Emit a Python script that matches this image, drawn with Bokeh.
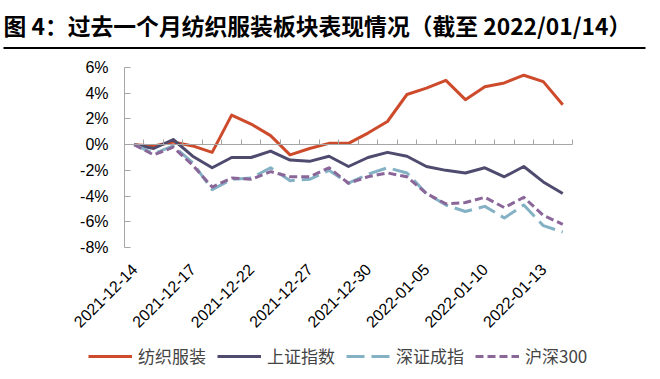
import math
from bokeh.plotting import figure
from bokeh.models import (Range1d, LinearAxis, FixedTicker, PrintfTickFormatter,
                          Legend, LegendItem, Label, BoxAnnotation)
from bokeh.embed import file_html
from bokeh.resources import INLINE

dates = ["2021-12-14", "2021-12-15", "2021-12-16", "2021-12-17", "2021-12-20",
         "2021-12-21", "2021-12-22", "2021-12-23", "2021-12-24", "2021-12-27",
         "2021-12-28", "2021-12-29", "2021-12-30", "2021-12-31", "2022-01-04",
         "2022-01-05", "2022-01-06", "2022-01-07", "2022-01-10", "2022-01-11",
         "2022-01-12", "2022-01-13", "2022-01-14"]
textile = [0, -0.1, 0.2, -0.1, -0.6, 2.3, 1.6, 0.7, -0.8, -0.3, 0.1, 0.1, 0.9,
           1.8, 3.9, 4.4, 5.0, 3.5, 4.5, 4.8, 5.4, 4.9, 3.1]
shanghai = [0, -0.3, 0.4, -0.9, -1.8, -1.0, -1.0, -0.5, -1.2, -1.3, -0.9, -1.7,
            -1.0, -0.6, -0.9, -1.7, -2.0, -2.2, -1.8, -2.5, -1.7, -2.9, -3.8]
shenzhen = [0, -0.7, -0.1, -1.4, -3.5, -2.7, -2.6, -1.8, -2.8, -2.7, -2.0, -3.0,
            -2.3, -1.8, -2.2, -3.8, -4.7, -5.2, -4.8, -5.7, -4.7, -6.3, -6.8]
hs300 = [0, -0.8, -0.2, -1.6, -3.3, -2.6, -2.7, -2.1, -2.5, -2.5, -1.8, -3.0,
         -2.5, -2.2, -2.5, -3.8, -4.6, -4.5, -4.1, -4.9, -4.1, -5.5, -6.2]
series_names = ["纺织服装", "上证指数", "深证成指", "沪深300"]
tick_labels = ["2021-12-14", "2021-12-17", "2021-12-22", "2021-12-27",
               "2021-12-30", "2022-01-05", "2022-01-10", "2022-01-13"]
y_ticks = [6, 4, 2, 0, -2, -4, -6, -8]
title_text = "图 4：过去一个月纺织服装板块表现情况（截至 2022/01/14）"

CJK = "Noto Sans CJK SC"
LAT = "Liberation Sans"
GRAY = "#A6A6A6"

W, H = 652, 370
# plot-area placement inside the canvas (pixels from top-left)
AX_L, AX_R, AX_T, AX_B = 124, 572, 67, 247

n = len(dates)
xs = list(range(n))
ymin, ymax = min(y_ticks), max(y_ticks)
ppx = (AX_R - AX_L) / n
ppy = (AX_B - AX_T) / (ymax - ymin)
x0 = -0.5 - AX_L / ppx
y1 = ymax + AX_T / ppy

p = figure(width=W, height=H, output_backend="svg", toolbar_location=None,
           x_range=Range1d(x0, x0 + W / ppx), y_range=Range1d(y1 - H / ppy, y1),
           x_axis_type=None, y_axis_type=None, title=None, min_border=0)
p.outline_line_color = None

# y axis
yax = LinearAxis(ticker=FixedTicker(ticks=y_ticks), fixed_location=-0.5,
                 bounds=(ymin, ymax), formatter=PrintfTickFormatter(format="%d%%"))
yax.axis_line_color = GRAY
yax.major_tick_line_color = GRAY
yax.major_tick_in = 6
yax.major_tick_out = 0
yax.minor_tick_line_color = None
yax.major_label_text_font = LAT
yax.major_label_text_font_size = "16px"
yax.major_label_text_color = "black"
yax.major_label_standoff = 16
p.add_layout(yax, "left")

# date labels below the plot area
label_pos = [dates.index(t) for t in tick_labels]
xax = LinearAxis(ticker=FixedTicker(ticks=label_pos), fixed_location=ymin,
                 major_label_overrides={i: t for i, t in zip(label_pos, tick_labels)})
xax.axis_line_color = None
xax.major_tick_line_color = None
xax.minor_tick_line_color = None
xax.major_label_orientation = math.pi / 4
xax.major_label_text_font = LAT
xax.major_label_text_font_size = "16px"
xax.major_label_text_color = "black"
xax.major_label_standoff = 13
p.add_layout(xax, "below")

# zero line with category-boundary ticks
bounds = [i + 0.5 for i in range(n)]
zax = LinearAxis(ticker=FixedTicker(ticks=bounds), fixed_location=0,
                 bounds=(-0.5, n - 0.5),
                 major_label_overrides={b: "" for b in bounds})
zax.axis_line_color = GRAY
zax.major_tick_line_color = GRAY
zax.major_tick_in = 0
zax.major_tick_out = 5
zax.minor_tick_line_color = None
zax.major_label_text_font_size = "1px"
zax.major_label_standoff = 0
p.add_layout(zax, "above")

r1 = p.line(xs, textile, color="#CD4A2B", line_width=3, line_join="round")
r2 = p.line(xs, shanghai, color="#4E4B6E", line_width=3, line_join="round")
r3 = p.line(xs, shenzhen, color="#84B1C4", line_width=3, line_join="round",
            line_dash="18 7")
r4 = p.line(xs, hs300, color="#8A6699", line_width=3, line_join="round",
            line_dash="8 4")

legend = Legend(items=[LegendItem(label=nm, renderers=[r])
                       for nm, r in zip(series_names, [r1, r2, r3, r4])],
                orientation="horizontal", location=(88, H - 368))
legend.border_line_color = None
legend.background_fill_alpha = 0
legend.glyph_width = 44
legend.glyph_height = 20
legend.label_text_font = CJK
legend.label_text_font_size = "17px"
legend.label_standoff = 6
legend.spacing = 11
legend.padding = 0
legend.margin = 0
p.add_layout(legend)

p.add_layout(Label(x=3, y=H - 8, x_units="screen", y_units="screen", text=title_text,
                   text_font=CJK, text_font_size="22.8px", text_font_style="bold",
                   text_color="black", text_baseline="top"))
p.add_layout(BoxAnnotation(left=3, right=645, top=H - 46.5, bottom=H - 48.5,
                           left_units="screen", right_units="screen",
                           top_units="screen", bottom_units="screen",
                           fill_color="black", fill_alpha=1, line_color=None))

open("out.html", "w").write(file_html(p, INLINE))
